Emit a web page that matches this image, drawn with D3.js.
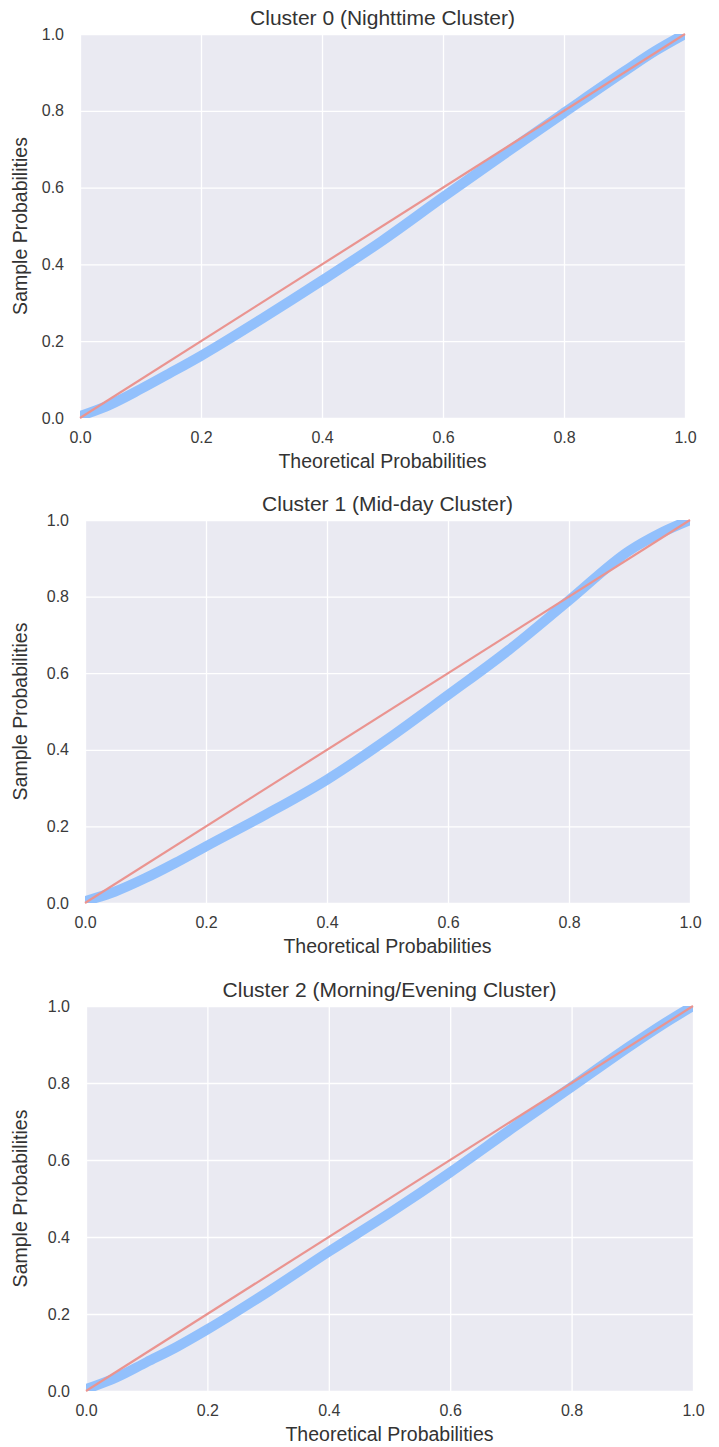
<!DOCTYPE html>
<html>
<head>
<meta charset="utf-8">
<script src="https://cdn.jsdelivr.net/npm/d3@7"></script>
<style>
  body { margin: 0; background: #fff; }
  text { font-family: "Liberation Sans", Arial, sans-serif; fill: #333; }
</style>
</head>
<body>
<div class="pp-plot__container"></div>
<script>
// data
const probTicks = [0, 0.2, 0.4, 0.6, 0.8, 1.0];
const theoretical = [0, 0.05, 0.1, 0.15, 0.2, 0.3, 0.4, 0.5, 0.6, 0.7, 0.8, 0.9, 0.95, 1.0];
const cluster0Sample = [0.005, 0.035, 0.075, 0.118, 0.162, 0.258, 0.358, 0.462, 0.575, 0.686, 0.795, 0.903, 0.955, 1.0];
const cluster1Sample = [0.005, 0.03, 0.065, 0.105, 0.148, 0.232, 0.322, 0.428, 0.543, 0.66, 0.79, 0.92, 0.965, 1.0];
const cluster2Sample = [0.005, 0.035, 0.075, 0.115, 0.16, 0.258, 0.362, 0.462, 0.568, 0.68, 0.79, 0.9, 0.952, 1.0];
const clusterTitles = ['Cluster 0 (Nighttime Cluster)', 'Cluster 1 (Mid-day Cluster)', 'Cluster 2 (Morning/Evening Cluster)'];
const clusterSamples = [cluster0Sample, cluster1Sample, cluster2Sample];

//layout
const width = 719;
const height = 1447;
const panelBoxes = [
    { left: 80, top: 34, w: 605, h: 384 },
    { left: 85, top: 520, w: 605, h: 383 },
    { left: 86, top: 1006, w: 607, h: 385 }
];

const svg = d3.select('.pp-plot__container')
    .append('svg')
    .attr('width', width)
    .attr('height', height);

const drawPanel = (box, title, sample, i) => {
    const g = svg.append('g')
        .attr('class', 'pp-plot')
        .attr('transform', `translate(${box.left}, ${box.top})`);

    const xScale = d3.scaleLinear().domain([0, 1]).range([0, box.w]);
    const yScale = d3.scaleLinear().domain([0, 1]).range([box.h, 0]);

    g.append('rect')
        .attr('width', box.w)
        .attr('height', box.h)
        .style('fill', '#eaeaf2');

    // grid via axes
    const xGrid = d3.axisBottom(xScale).tickValues(probTicks).tickSize(-box.h).tickFormat('');
    const yGrid = d3.axisLeft(yScale).tickValues(probTicks).tickSize(-box.w).tickFormat('');
    [g.append('g').attr('transform', `translate(0,${box.h})`).call(xGrid),
     g.append('g').call(yGrid)].forEach(a => {
        a.select('.domain').remove();
        a.selectAll('line').style('stroke', '#fff').style('stroke-width', 1.3);
    });

    // tick labels
    const xAxis = d3.axisBottom(xScale).tickValues(probTicks).tickSize(0).tickPadding(14).tickFormat(d3.format('.1f'));
    const yAxis = d3.axisLeft(yScale).tickValues(probTicks).tickSize(0).tickPadding(16).tickFormat(d3.format('.1f'));
    [g.append('g').attr('transform', `translate(0,${box.h})`).call(xAxis),
     g.append('g').call(yAxis)].forEach(a => {
        a.select('.domain').remove();
        a.selectAll('text').style('font-size', '16px').style('fill', '#3a3a3a').style('font-family', '"Liberation Sans", Arial, sans-serif');
    });

    const clipId = `clip-${i}`;
    g.append('clipPath').attr('id', clipId)
        .append('rect').attr('width', box.w).attr('height', box.h);

    const lineGenerator = d3.line()
        .x(d => xScale(d[0]))
        .y(d => yScale(d[1]))
        .curve(d3.curveMonotoneX);

    const pts = theoretical.map((t, k) => [t, sample[k]]);

    g.append('path')
        .attr('clip-path', `url(#${clipId})`)
        .attr('d', lineGenerator(pts))
        .style('fill', 'none')
        .style('stroke', '#92c0fc')
        .style('stroke-width', 10);

    g.append('path')
        .attr('d', lineGenerator([[0, 0], [1, 1]]))
        .style('fill', 'none')
        .style('stroke', '#ea9490')
        .style('stroke-width', 2.2);

    // title and axis labels
    g.append('text')
        .attr('x', box.w / 2)
        .attr('y', -9)
        .attr('text-anchor', 'middle')
        .style('font-size', '21px')
        .text(title);

    g.append('text')
        .attr('x', box.w / 2)
        .attr('y', box.h + 50)
        .attr('text-anchor', 'middle')
        .style('font-size', '19.5px')
        .text('Theoretical Probabilities');

    g.append('text')
        .attr('transform', `translate(${27 - box.left}, ${box.h / 2}) rotate(-90)`)
        .attr('text-anchor', 'middle')
        .style('font-size', '19.5px')
        .text('Sample Probabilities');
};

panelBoxes.forEach((box, i) => drawPanel(box, clusterTitles[i], clusterSamples[i], i));
</script>
</body>
</html>
